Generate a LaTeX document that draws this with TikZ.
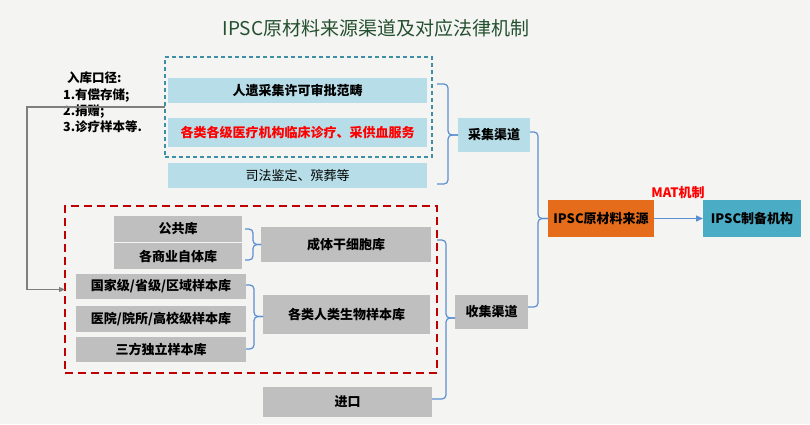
\documentclass[tikz,border=0pt]{standalone}
\usepackage{fontspec}
\newfontfamily\cjk{Noto Sans CJK SC}
\usetikzlibrary{arrows.meta,calc}
\definecolor{bgc}{HTML}{F4F4F2}
\definecolor{lbc}{HTML}{B7DEE8}
\definecolor{gbc}{HTML}{BFBFBF}
\definecolor{brc}{HTML}{5B8FD0}
\definecolor{tealdash}{HTML}{3E8FA6}
\definecolor{reddash}{HTML}{C00000}
\definecolor{orc}{HTML}{E46C1A}
\definecolor{tlc}{HTML}{4BACC6}
\definecolor{titlec}{HTML}{24502F}
\definecolor{grayline}{HTML}{7F7F7F}
\tikzset{
  boxbase/.style={inner sep=0pt, outer sep=0pt, font=\cjk\bfseries\fontsize{13}{15}\selectfont, text=black},
  lbox/.style={boxbase, fill=lbc},
  gbox/.style={boxbase, fill=gbc},
  brace/.style={draw=brc, line width=1.2pt, rounded corners=4pt},
  frameteal/.style={draw=tealdash, line width=1.3pt, dash pattern=on 4pt off 3pt, inner sep=0pt, outer sep=0pt},
  framered/.style={draw=reddash, line width=2.5pt, dash pattern=on 8pt off 5pt, inner sep=0pt, outer sep=0pt},
}
\begin{document}
\begin{tikzpicture}[x=1pt,y=-1pt]
\useasboundingbox (0,0) rectangle (810,424);
\fill[bgc] (0,0) rectangle (810,424);

% title
\node[font=\cjk\fontsize{19}{22}\selectfont, text=titlec] (title) at (376,28) {IPSC原材料来源渠道及对应法律机制};

% entry note
\node[anchor=north west, align=left, inner sep=0pt, font=\cjk\bfseries\fontsize{12.5}{16.2}\selectfont] (note) at (63,72)
  {\hspace*{4pt}入库口径:\\1.有偿存储;\\2.捐赠;\\3.诊疗样本等.};

% frames
\node[frameteal, minimum width=267pt, minimum height=100pt] (tealbox) at (298.5,107) {};
\node[framered, minimum width=372pt, minimum height=167pt] (redbox) at (251,289.5) {};

% collection boxes
\node[lbox, minimum width=259pt, minimum height=25pt] (t1) at (297.5,90.5) {人遗采集许可审批范畴};
\node[lbox, minimum width=259pt, minimum height=29pt, text=red] (t2) at (297.5,132.5) {各类各级医疗机构临床诊疗、采供血服务};
\node[lbox, minimum width=259pt, minimum height=25pt, font=\cjk\fontsize{13}{15}\selectfont] (t3) at (297.5,175.5) {司法鉴定、殡葬等};

\node[lbox, minimum width=72pt, minimum height=34pt] (cj) at (494,135) {采集渠道};
\node[gbox, minimum width=73pt, minimum height=34pt] (sj) at (491.5,312) {收集渠道};
\node[boxbase, fill=orc, minimum width=106pt, minimum height=37pt] (src) at (601,218.5) {IPSC原材料来源};
\node[boxbase, fill=tlc, minimum width=98pt, minimum height=37pt] (dst) at (752,218.5) {IPSC制备机构};

% bank boxes
\node[gbox, minimum width=128pt, minimum height=26pt] (g1) at (178,229) {公共库};
\node[gbox, minimum width=128pt, minimum height=26pt] (g2) at (178,256) {各商业自体库};
\node[gbox, minimum width=170pt, minimum height=35pt] (g3) at (346,244.5) {成体干细胞库};
\node[gbox, minimum width=170pt, minimum height=25pt] (g4) at (161,286.5) {国家级/省级/区域样本库};
\node[gbox, minimum width=170pt, minimum height=26pt] (g5) at (161,319) {医院/院所/高校级样本库};
\node[gbox, minimum width=170pt, minimum height=25pt] (g6) at (161,349.5) {三方独立样本库};
\node[gbox, minimum width=167pt, minimum height=39pt] (g7) at (346.5,314.5) {各类人类生物样本库};
\node[gbox, minimum width=169pt, minimum height=30pt] (g8) at (347.5,402) {进口};

% gray entry connector
\draw[grayline, line width=1.1pt, -{Triangle[length=6pt,width=5pt]}] (tealbox.west) -- ++(-138,0) |- (redbox.west);

% braces
\coordinate (b1m) at (cj.west);
\draw[brace] (437,84) -- (448,84) -- (448,135) -- (b1m);
\draw[brace] (437,184) -- (448,184) -- (448,135) -- (b1m);

\coordinate (b2m) at (src.west);
\draw[brace] ($(cj.east)+(0,-3)$) -- (538,132) -- (538,218.5) -- (b2m);
\draw[brace] ($(sj.east)+(0,-5)$) -- (538,307) -- (538,218.5) -- (b2m);

\coordinate (b3m) at ($(sj.west)+(0,6)$);
\draw[brace] (437,240) -- (446,240) -- (446,318) -- (b3m);
\draw[brace] (g8.east|-0,399) -- (446,399) -- (446,318) -- (b3m);

\coordinate (b4m) at (g3.west);
\draw[brace] (245,229) -- (253,229) -- (253,244.5) -- (b4m);
\draw[brace] (245,260) -- (253,260) -- (253,244.5) -- (b4m);

\coordinate (b5m) at ($(g7.west)+(0,2)$);
\draw[brace] (246,285) -- (254,285) -- (254,316.5) -- (b5m);
\draw[brace] (246,349) -- (254,349) -- (254,316.5) -- (b5m);

% MAT arrow
\draw[brc, line width=1.2pt, -{Triangle[length=7pt,width=6pt]}] (src.east) -- (dst.west);
\node[font=\cjk\bfseries\fontsize{13}{15}\selectfont, text=red, inner sep=0pt] (mat) at (678,193) {MAT机制};
\end{tikzpicture}
\end{document}
